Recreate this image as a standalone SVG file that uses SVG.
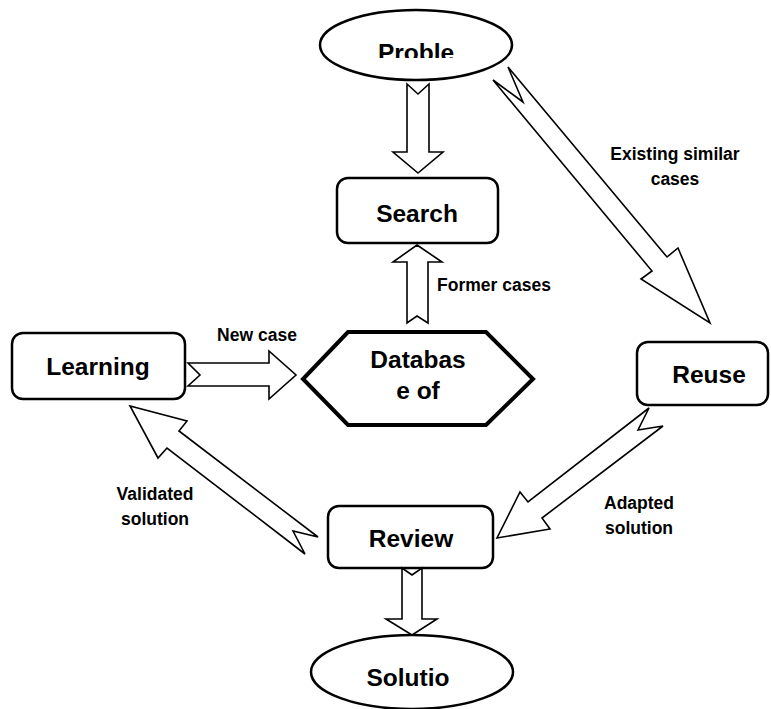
<svg xmlns="http://www.w3.org/2000/svg" width="771" height="709" viewBox="0 0 771 709">
  <style>
    .node { fill: #ffffff; stroke: #000000; stroke-width: 2.5; }
    .hex { fill: #ffffff; stroke: #000000; stroke-width: 4; stroke-linejoin: miter; }
    .blk { fill: #ffffff; stroke: #000000; stroke-width: 1.6; stroke-linejoin: miter; }
    .t { font-family: "Liberation Sans", Arial, sans-serif; font-weight: bold; font-size: 24.5px; fill: #000000; text-anchor: middle; }
    .lbl { font-family: "Liberation Sans", Arial, sans-serif; font-weight: bold; font-size: 17.5px; fill: #000000; text-anchor: middle; }
  </style>
  <defs>
    <clipPath id="problemClip">
      <rect x="320" y="10" width="192" height="48"/>
    </clipPath>
  </defs>
  <rect width="771" height="709" fill="#ffffff"/>

  <!-- nodes -->
  <g id="problem">
    <ellipse class="node" cx="416" cy="45" rx="96" ry="35"/>
    <text class="t" x="416" y="61" clip-path="url(#problemClip)">Proble</text>
  </g>
  <g id="search">
    <rect class="node" x="337" y="178" width="161" height="65" rx="11"/>
    <text class="t" x="417" y="222">Search</text>
  </g>
  <g id="database">
    <polygon class="hex" points="348,332 486,332 533,379 486,425 348,425 303,379"/>
    <text class="t" x="418" y="368">Databas</text>
    <text class="t" x="418" y="399">e of</text>
  </g>
  <g id="learning">
    <rect class="node" x="12" y="333" width="173" height="66" rx="11"/>
    <text class="t" x="98" y="375">Learning</text>
  </g>
  <g id="reuse">
    <rect class="node" x="637" y="342" width="131" height="63" rx="11"/>
    <text class="t" x="709" y="383">Reuse</text>
  </g>
  <g id="review">
    <rect class="node" x="328" y="506" width="165" height="62" rx="11"/>
    <text class="t" x="411" y="547">Review</text>
  </g>
  <g id="solution">
    <ellipse class="node" cx="412" cy="672" rx="101" ry="37"/>
    <text class="t" x="408" y="686">Solutio</text>
  </g>

  <!-- connectors: hollow block arrows -->
  <g id="connectors">
    <polygon class="blk" points="407,84 418,94 429,84 429,152 443,152 418,173 393,152 407,152"/>
    <polygon class="blk" points="417,245 442,262 428,262 428,323 417,316 407,323 407,262 393,262"/>
    <polygon class="blk" points="188,363 269,363 269,351 296,375 269,399 269,386 188,386 200,375"/>
    <polygon class="blk" points="508,67 667,257 678,248 710,323 641,279 652,271 493,80 523,102"/>
    <polygon class="blk" points="649,408 528,502 520,492 497,538 550,529 542,518 663,426 638,430"/>
    <polygon class="blk" points="318,537 179,431 187,421 130,406 158,458 167,448 305,554 293,531"/>
    <polygon class="blk" points="402,568 412,575 422,568 422,619 437,619 412,635 386,619 402,619"/>
  </g>

  <!-- connector labels -->
  <g id="labels">
    <text class="lbl" x="675" y="160">Existing similar</text>
    <text class="lbl" x="675" y="185">cases</text>
    <text class="lbl" x="494" y="291">Former cases</text>
    <text class="lbl" x="257" y="341">New case</text>
    <text class="lbl" x="639" y="509">Adapted</text>
    <text class="lbl" x="639" y="534">solution</text>
    <text class="lbl" x="155" y="500">Validated</text>
    <text class="lbl" x="155" y="525">solution</text>
  </g>
</svg>
